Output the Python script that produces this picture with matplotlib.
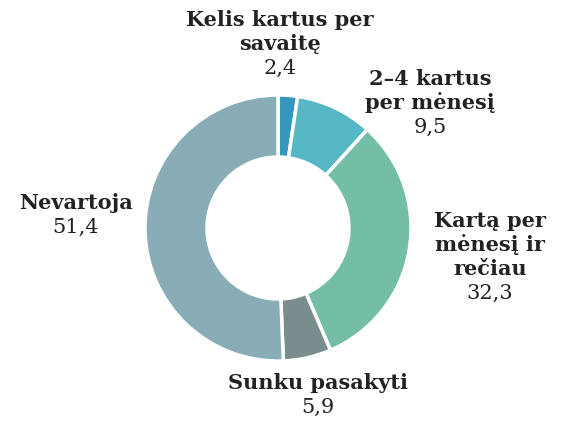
import matplotlib.pyplot as plt

# Survey shares (%), clockwise from the top
categories = ["Kelis kartus per\nsavaitę", "2–4 kartus\nper mėnesį", "Kartą per\nmėnesį ir\nrečiau",
              "Sunku pasakyti", "Nevartoja"]
values = [2.4, 9.5, 32.3, 5.9, 51.4]
colors = ["#3597bd", "#56b7c5", "#74bea8", "#7a8d8e", "#88adb7"]

# label anchor (pixel x, pixel y of the block centre) for each category
label_pos = [(280, 44), (430, 103), (490, 257), (318, 395), (76, 215)]

W, H = 563, 421
fig = plt.figure(figsize=(W / 100, H / 100), dpi=100)
ax = fig.add_axes([0, 0, 1, 1])

ax.pie(values, colors=colors, startangle=90, counterclock=False,
       center=(278, H - 228), radius=133,
       wedgeprops=dict(width=133 - 71, edgecolor="white", linewidth=2.5))

# pie() resets the limits, so set them afterwards
ax.set_xlim(0, W)
ax.set_ylim(0, H)
ax.set_aspect("equal")
ax.axis("off")

line_h = 24
for name, val, (px, py) in zip(categories, values, label_pos):
    lines = name.split("\n") + [f"{val:.1f}".replace(".", ",")]
    n = len(lines)
    top = py - (n - 1) * line_h / 2
    for i, ln in enumerate(lines):
        y = H - (top + i * line_h)
        bold = i < n - 1
        ax.text(px, y, ln, ha="center", va="center", fontsize=15,
                family="DejaVu Serif", fontweight="bold" if bold else "normal",
                color="#222222")

fig.savefig("out.png", dpi=100)
